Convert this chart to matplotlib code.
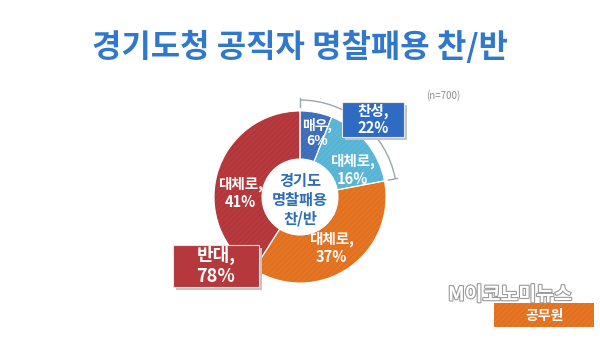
import matplotlib
matplotlib.use("Agg")
import matplotlib.pyplot as plt
from matplotlib.patches import Rectangle, Arc
import matplotlib.patheffects as pe
import numpy as np

plt.rcParams['font.family'] = ['Noto Sans CJK KR', 'DejaVu Sans']
plt.rcParams['hatch.linewidth'] = 0.5

# Survey data (n=700)
title = "경기도청 공직자 명찰패용 찬/반"
segment_labels = ["매우,", "대체로,", "대체로,", "대체로,"]
segment_values = [6, 16, 37, 41]
group_labels = ["찬성,", "반대,"]
group_values = [22, 78]
center_label = "경기도\n명찰패용\n찬/반"
sample_note = "(n=700)"

face_colors = ["#3D6CB9", "#58B4D4", "#E2711F", "#B3363A"]
hatch_colors = ["#4C79C2", "#68BEDB", "#E97F30", "#BC4448"]

W, H = 600, 338
fig = plt.figure(figsize=(W / 100, H / 100), dpi=100)
ax = fig.add_axes([0, 0, 1, 1])

cx, cy = 300, H - 197
R, ring = 86, 48

wedges, _ = ax.pie(segment_values, colors=face_colors, startangle=90,
                   counterclock=False, radius=R, center=(cx, cy), frame=True,
                   wedgeprops=dict(width=ring, linewidth=0))
for w, hc in zip(wedges, hatch_colors):
    w.set_hatch('//////')
    w.set_edgecolor(hc)
    w.set_linewidth(0)

# thin white separators between segments
ax.pie(segment_values, colors=['none'] * 4, startangle=90, counterclock=False,
       radius=R, center=(cx, cy), frame=True,
       wedgeprops=dict(width=ring, linewidth=0.8, edgecolor='white', fill=False))
ax.set_xlim(0, W)
ax.set_ylim(0, H)
ax.set_aspect('equal')
ax.axis('off')

# segment labels
label_pos = [(317, 133), (352, 170), (331, 248), (240, 193)]
label_size = [10, 10.5, 10.5, 10.5]
for (x, y), fs, name, v in zip(label_pos, label_size, segment_labels, segment_values):
    ax.text(x, H - y, f"{name}\n{v}%", ha='center', va='center', color='white',
            fontsize=fs, fontweight='bold', linespacing=1.15)

# center caption
ax.text(cx, H - 200, center_label, ha='center', va='center', color='#2C6DB5',
        fontsize=11, fontweight='bold', linespacing=1.2)

# bracket spanning the "in favour" share
approve_frac = group_values[0] / 100
theta_end = 90
theta_start = 90 - 360 * approve_frac
rb = 97
ax.add_patch(Arc((cx, cy), 2 * rb, 2 * rb, theta1=theta_start, theta2=theta_end,
                 color='#9AA5B1', lw=1.0))
for th in (theta_start, theta_end):
    t = np.deg2rad(th)
    ax.plot([cx + (rb - 7) * np.cos(t), cx + (rb + 2) * np.cos(t)],
            [cy + (rb - 7) * np.sin(t), cy + (rb + 2) * np.sin(t)],
            color='#9AA5B1', lw=1.0)

# group boxes with drop shadows
def group_box(x0, y0, x1, y1, color, text, fs):
    ax.add_patch(Rectangle((x0 + 3, H - y1 - 3), x1 - x0, y1 - y0,
                           facecolor='#C4C4C4', edgecolor='none', zorder=3))
    ax.add_patch(Rectangle((x0, H - y1), x1 - x0, y1 - y0,
                           facecolor=color, edgecolor='#E6E6E6', lw=0.8, zorder=4))
    ax.text((x0 + x1) / 2, H - (y0 + y1) / 2, text, ha='center', va='center',
            color='white', fontsize=fs, fontweight='bold', linespacing=1.15, zorder=5)

group_box(342, 102, 404, 137, "#2F6BC3", f"{group_labels[0]}\n{group_values[0]}%", 10.5)
group_box(173, 245, 259, 287, "#B5383C", f"{group_labels[1]}\n{group_values[1]}%", 13)

ax.text(443, H - 96, sample_note, ha='center', va='center', color='#8C8C8C',
        fontsize=7)

# title
ax.text(300, H - 47, title, ha='center', va='center', color='#2F78CC',
        fontsize=23, fontweight='bold')

# outlet mark
ax.text(510, H - 295, "M이코노미뉴스", ha='center', va='center', color='white',
        fontsize=14, fontweight='bold',
        path_effects=[pe.withStroke(linewidth=1.6, foreground='#9A9A9A')])
tag = Rectangle((494, H - 327), 100, 24, facecolor='#E2711F', hatch='//////')
tag.set_edgecolor('#EA8034')
tag.set_linewidth(0)
ax.add_patch(tag)
ax.text(544, H - 316, "공무원", ha='center', va='center', color='white',
        fontsize=10, fontweight='bold')

fig.savefig("out.png", dpi=100)
